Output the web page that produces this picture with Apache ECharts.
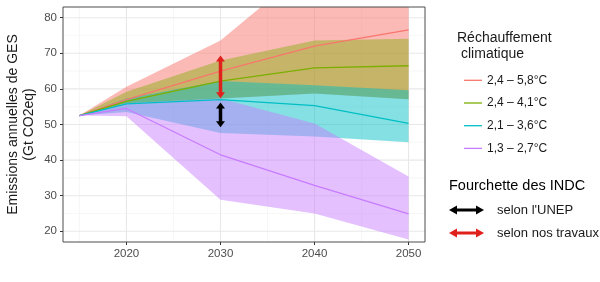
<!DOCTYPE html>
<html><head><meta charset="utf-8">
<script src="https://cdn.jsdelivr.net/npm/echarts@6/dist/echarts.min.js"></script>
<style>html,body{margin:0;padding:0;background:#fff}#c{width:600px;height:282px}</style>
</head><body><div id="c"></div>
<script>
const FONT = '"Liberation Sans", Arial, sans-serif';
const years = [2015, 2020, 2030, 2040, 2050];
const scenarioNames = ['2,4 – 5,8°C', '2,4 – 4,1°C', '2,1 – 3,6°C', '1,3 – 2,7°C'];
const colors = ['#F8766D', '#7CAE00', '#00BFC4', '#C77CFF'];
const bandAlpha = [0.5, 0.42, 0.48, 0.48];

// central trajectories
const lineRed    = [52.5, 57.0, 65.0, 72.0, 76.6];
const lineOlive  = [52.5, 56.5, 62.2, 65.9, 66.5];
const lineCyan   = [52.5, 55.8, 57.0, 55.3, 50.3];
const linePurple = [52.5, 54.5, 41.5, 32.9, 24.9];

// ranges (upper / lower)
const upRed    = [52.5, 60.6, 73.6, 95.5, 110.0];
const loRed    = [52.5, 56.0, 57.3, 58.7, 57.1];
const upOlive  = [52.5, 59.2, 68.0, 73.6, 74.1];
const loOlive  = [52.5, 56.0, 57.3, 58.7, 57.1];
const upCyan   = [52.5, 57.3, 62.2, 61.0, 59.6];
const loCyan   = [52.5, 53.5, 47.6, 46.6, 45.0];
const upPurple = [52.5, 56.0, 57.3, 50.3, 35.4];
const loPurple = [52.5, 52.3, 28.9, 25.0, 17.7];

// INDC ranges in 2030
const arrowYear = 2030;
const rangeUNEP = [49.2, 56.2];
const rangeOurs = [57.4, 69.4];

const xTicks = [2020, 2030, 2040, 2050];
const xMinor = [2015, 2025, 2035, 2045];
const yTicks = [20, 30, 40, 50, 60, 70, 80];
const yMinor = [25, 35, 45, 55, 65, 75];

const lines = [lineRed, lineOlive, lineCyan, linePurple];
const uppers = [upRed, upOlive, upCyan, upPurple];
const lowers = [loRed, loOlive, loCyan, loPurple];

function rgba(hex, a) {
  const n = parseInt(hex.slice(1), 16);
  return 'rgba(' + (n >> 16 & 255) + ',' + (n >> 8 & 255) + ',' + (n & 255) + ',' + a + ')';
}

function bandSeries(i) {
  return {
    type: 'custom', name: 'band' + i, z: 2, silent: true, animation: false,
    data: years.map((y, k) => [y, lowers[i][k], uppers[i][k]]),
    encode: { x: 0, y: [1, 2] },
    renderItem: function (params, api) {
      if (params.dataIndex !== 0) return null;
      const top = years.map((y, k) => api.coord([y, uppers[i][k]]));
      const bot = years.map((y, k) => api.coord([y, lowers[i][k]])).reverse();
      const cs = params.coordSys;
      return {
        type: 'polygon', shape: { points: top.concat(bot) },
        style: { fill: rgba(colors[i], bandAlpha[i]) },
        clipPath: { type: 'rect', shape: { x: cs.x, y: cs.y, width: cs.width, height: cs.height } }
      };
    }
  };
}

function lineSeries(i) {
  return {
    type: 'line', name: scenarioNames[i], z: 3, animation: false, silent: true,
    symbol: 'none', showSymbol: false,
    data: years.map((y, k) => [y, lines[i][k]]),
    lineStyle: { color: colors[i], width: 1.3 },
    itemStyle: { color: colors[i] }
  };
}

function arrowSeries(range, color) {
  return {
    type: 'custom', z: 4, silent: true, animation: false,
    data: [[arrowYear, range[0], range[1]]],
    encode: { x: 0, y: [1, 2] },
    renderItem: function (params, api) {
      const p0 = api.coord([api.value(0), api.value(1)]);
      const p1 = api.coord([api.value(0), api.value(2)]);
      const hl = 6, hw = 4.5;
      return {
        type: 'group', children: [
          { type: 'line', shape: { x1: p0[0], y1: p0[1] - hl + 1, x2: p1[0], y2: p1[1] + hl - 1 }, style: { stroke: color, lineWidth: 3.5 } },
          { type: 'polygon', shape: { points: [[p0[0], p0[1]], [p0[0] - hw, p0[1] - hl], [p0[0] + hw, p0[1] - hl]] }, style: { fill: color } },
          { type: 'polygon', shape: { points: [[p1[0], p1[1]], [p1[0] - hw, p1[1] + hl], [p1[0] + hw, p1[1] + hl]] }, style: { fill: color } }
        ]
      };
    }
  };
}

function gridSeries() {
  const items = [].concat(
    xMinor.map(v => [0, v, 0.7]), yMinor.map(v => [1, v, 0.7]),
    xTicks.map(v => [0, v, 1.1]), yTicks.map(v => [1, v, 1.1])
  );
  return {
    type: 'custom', z: 1, silent: true, animation: false,
    data: items,
    renderItem: function (params, api) {
      const cs = params.coordSys;
      const isY = api.value(0) === 1, v = api.value(1), w = api.value(2);
      let shape;
      if (isY) { const p = api.coord([2030, v]); shape = { x1: cs.x, y1: p[1], x2: cs.x + cs.width, y2: p[1] }; }
      else { const p = api.coord([v, 50]); shape = { x1: p[0], y1: cs.y, x2: p[0], y2: cs.y + cs.height }; }
      return { type: 'line', shape: shape, style: { stroke: w > 1 ? '#E8E8E8' : '#F3F3F3', lineWidth: w } };
    }
  };
}

function legendArrow(y, color) {
  const x0 = 449, x1 = 484, hl = 8, hw = 4.5;
  return [
    { type: 'line', shape: { x1: x0 + hl - 1, y1: y, x2: x1 - hl + 1, y2: y }, style: { stroke: color, lineWidth: 3 } },
    { type: 'polygon', shape: { points: [[x0, y], [x0 + hl, y - hw], [x0 + hl, y + hw]] }, style: { fill: color } },
    { type: 'polygon', shape: { points: [[x1, y], [x1 - hl, y - hw], [x1 - hl, y + hw]] }, style: { fill: color } }
  ];
}

const chart = echarts.init(document.getElementById('c'), null, { renderer: 'canvas' });
chart.setOption({
  animation: false,
  backgroundColor: '#ffffff',
  grid: { left: 63, top: 7, right: 175, bottom: 40, show: true, borderColor: '#4d4d4d', borderWidth: 1, z: 10, containLabel: false },
  xAxis: {
    type: 'value', min: 2013.25, max: 2051.75,
    axisLine: { show: false }, splitLine: { show: false },
    axisTick: { show: true, customValues: xTicks, length: 3, lineStyle: { color: '#333' } },
    axisLabel: { customValues: xTicks, formatter: v => String(v), fontSize: 11.5, color: '#4D4D4D', margin: 6, fontFamily: FONT }
  },
  yAxis: {
    type: 'value', min: 17, max: 83,
    axisLine: { show: false }, splitLine: { show: false },
    axisTick: { show: true, customValues: yTicks, length: 3, lineStyle: { color: '#333' } },
    axisLabel: { customValues: yTicks, formatter: v => String(v), fontSize: 11.5, color: '#4D4D4D', margin: 6, fontFamily: FONT }
  },
  legend: {
    orient: 'vertical', left: 459, top: 69.3,
    itemWidth: 18, itemHeight: 1.3, itemGap: 10.7,
    icon: 'rect',
    selectedMode: false,
    data: scenarioNames,
    textStyle: { fontSize: 12, lineHeight: 12, color: '#1a1a1a', fontFamily: FONT }
  },
  graphic: [
    { type: 'text', x: 13, y: 124.5, rotation: Math.PI / 2, style: { text: 'Emissions annuelles de GES', fontSize: 14, fontFamily: FONT, fill: '#1a1a1a', align: 'center', verticalAlign: 'middle' } },
    { type: 'text', x: 29.5, y: 124.5, rotation: Math.PI / 2, style: { text: '(Gt CO2eq)', fontSize: 14, fontFamily: FONT, fill: '#1a1a1a', align: 'center', verticalAlign: 'middle' } },
    { type: 'text', x: 457, y: 38, style: { text: 'Réchauffement', fontSize: 14, fontFamily: FONT, fill: '#1a1a1a', align: 'left', verticalAlign: 'middle' } },
    { type: 'text', x: 461, y: 54, style: { text: 'climatique', fontSize: 14, fontFamily: FONT, fill: '#1a1a1a', align: 'left', verticalAlign: 'middle' } },
    { type: 'text', x: 449, y: 186, style: { text: 'Fourchette des INDC', fontSize: 14.5, fontFamily: FONT, fill: '#000', align: 'left', verticalAlign: 'middle' } },
    { type: 'text', x: 497, y: 210, style: { text: "selon l'UNEP", fontSize: 13, fontFamily: FONT, fill: '#1a1a1a', align: 'left', verticalAlign: 'middle' } },
    { type: 'text', x: 497, y: 233, style: { text: 'selon nos travaux', fontSize: 13, fontFamily: FONT, fill: '#1a1a1a', align: 'left', verticalAlign: 'middle' } }
  ].concat(legendArrow(210, '#000000'), legendArrow(233, '#E0201B')),
  series: [
    gridSeries(),
    bandSeries(0), bandSeries(1), bandSeries(2), bandSeries(3),
    lineSeries(0), lineSeries(1), lineSeries(2), lineSeries(3),
    arrowSeries(rangeOurs, '#E0201B'),
    arrowSeries(rangeUNEP, '#000000')
  ]
});
</script>
</body></html>
